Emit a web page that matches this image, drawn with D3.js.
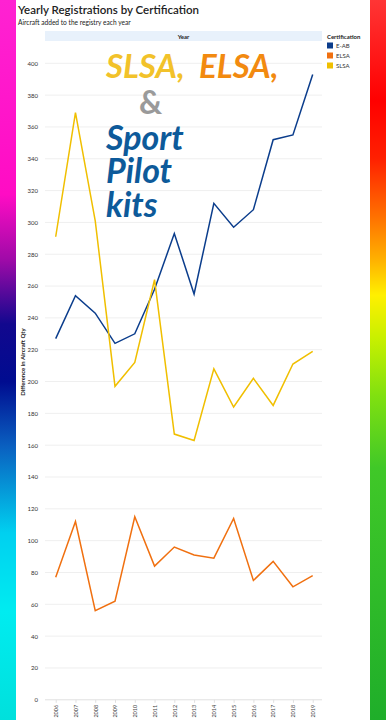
<!DOCTYPE html>
<html><head><meta charset="utf-8">
<script src="https://cdn.jsdelivr.net/npm/d3@7"></script>
<style>html,body{margin:0;padding:0;background:#fff;}svg{display:block;}</style>
</head><body><svg id="c" width="386" height="720"></svg>
<script>
const years = [2006,2007,2008,2009,2010,2011,2012,2013,2014,2015,2016,2017,2018,2019];
const eab  = [227,254,243,224,230,258,293,255,312,297,308,352,355,393];
const elsa = [77,112,56,62,115,84,96,91,89,114,75,87,71,78];
const slsa = [291,369,301,197,212,264,167,163,208,184,202,185,211,219];
const seriesNames = ["E-AB","ELSA","SLSA"];
const seriesColors = ["#0b3d8c","#f07010","#f0bf00"];
const yTicks = [0,20,40,60,80,100,120,140,160,180,200,220,240,260,280,300,320,340,360,380,400];

const svg = d3.select("#c");
const font = "Lato, 'Noto Sans', sans-serif";

// side gradients
const defs = svg.append("defs");
const gl = defs.append("linearGradient").attr("id","gl").attr("x1",0).attr("y1",0).attr("x2",0).attr("y2",1);
[[0,"#ff22d2"],[0.27,"#ff0cc4"],[0.36,"#a00aa8"],[0.45,"#12088e"],[0.53,"#000c90"],[0.62,"#0a60c0"],[0.74,"#00d0f0"],[0.85,"#00ecf0"],[1,"#00e0dc"]]
 .forEach(s=>gl.append("stop").attr("offset",s[0]).attr("stop-color",s[1]));
const gr = defs.append("linearGradient").attr("id","gr").attr("x1",0).attr("y1",0).attr("x2",0).attr("y2",1);
[[0,"#ff3535"],[0.14,"#ff0000"],[0.22,"#ff2000"],[0.3,"#ff7000"],[0.36,"#ffb000"],[0.41,"#fff000"],[0.47,"#c8f000"],[0.55,"#80e010"],[0.65,"#40c828"],[1,"#1fae2a"]]
 .forEach(s=>gr.append("stop").attr("offset",s[0]).attr("stop-color",s[1]));
svg.append("rect").attr("x",0).attr("y",0).attr("width",16).attr("height",720).attr("fill","url(#gl)");
svg.append("rect").attr("x",370).attr("y",0).attr("width",16).attr("height",720).attr("fill","url(#gr)");

// titles
svg.append("text").attr("x",18).attr("y",14).attr("font-family",font).attr("font-size",11.5).attr("font-weight",600)
  .attr("fill","#222").text("Yearly Registrations by Certification");
svg.append("text").attr("x",18).attr("y",25).attr("font-family",font).attr("font-size",6.6)
  .attr("fill","#222").text("Aircraft added to the registry each year");

const x0 = 45, x1 = 322;
const x = d3.scalePoint().domain(years).range([55.7,312.7]);
const y = d3.scaleLinear().domain([0,400]).range([699.8,63.3]);

// header band
svg.append("rect").attr("x",x0).attr("y",31).attr("width",x1-x0).attr("height",10).attr("fill","#e8f1fb");
svg.append("text").attr("x",(x0+x1)/2).attr("y",38.5).attr("text-anchor","middle").attr("font-family",font)
  .attr("font-size",6).attr("font-weight",700).attr("fill","#222").text("Year");

// gridlines
svg.append("g").selectAll("line").data(yTicks.filter(d=>d>0)).join("line")
  .attr("x1",x0).attr("x2",x1).attr("y1",d=>y(d)).attr("y2",d=>y(d))
  .attr("stroke","#efefef").attr("stroke-width",1);

// y axis
const ya = svg.append("g").attr("transform",`translate(${x0},0)`)
  .call(d3.axisLeft(y).tickValues(yTicks).tickSize(0).tickPadding(7));
ya.select(".domain").remove();
ya.selectAll("text").attr("font-family",font).attr("font-size",6).attr("fill","#333");

// x axis
const xa = svg.append("g").attr("transform",`translate(0,${y(0)})`)
  .call(d3.axisBottom(x).tickSize(3).tickPadding(2));
xa.select(".domain").attr("d",`M${x0},0H${x1}`).attr("stroke","#e0e0e0");
xa.selectAll(".tick line").attr("stroke","#e0e0e0");
xa.selectAll("text").attr("font-family",font).attr("font-size",5.5).attr("fill","#444")
  .attr("transform","rotate(-90)").attr("text-anchor","end")
  .attr("x",0).attr("y",0).attr("dx",-5).attr("dy","0.32em");

// y title
svg.append("text").attr("transform","translate(25,362) rotate(-90)").attr("text-anchor","middle")
  .attr("font-family",font).attr("font-size",6).attr("font-weight",700).attr("fill","#222")
  .text("Difference in Aircraft Qty");

// annotation text
const ann = svg.append("g").attr("font-family","Lato, 'Open Sans', sans-serif").attr("font-style","italic").attr("font-weight",700);
ann.append("text").attr("x",106).attr("y",78).attr("font-size",33).attr("fill","#f2c22a").text("SLSA,");
ann.append("text").attr("x",199).attr("y",78).attr("font-size",33).attr("fill","#f28a10").text("ELSA,");
ann.append("text").attr("x",139).attr("y",114).attr("font-size",32).attr("font-style","normal").attr("fill","#9a9a9a").text("&");
ann.append("text").attr("x",106).attr("y",150).attr("font-size",34).attr("fill","#0d5a9a").text("Sport");
ann.append("text").attr("x",106).attr("y",183).attr("font-size",34).attr("fill","#0d5a9a").text("Pilot");
ann.append("text").attr("x",106).attr("y",217).attr("font-size",34).attr("fill","#0d5a9a").text("kits");

// lines
const line = d3.line().x((d,i)=>x(years[i])).y(d=>y(d));
[eab,elsa,slsa].forEach((s,k)=>{
  svg.append("path").datum(s).attr("d",line).attr("fill","none")
    .attr("stroke",seriesColors[k]).attr("stroke-width",1.5).attr("stroke-linejoin","miter");
});

// legend
const lg = svg.append("g").attr("font-family",font);
lg.append("text").attr("x",327).attr("y",39).attr("font-size",6).attr("font-weight",700).attr("fill","#222").text("Certification");
seriesNames.forEach((n,i)=>{
  lg.append("rect").attr("x",327).attr("y",42.5+i*10).attr("width",6).attr("height",6).attr("fill",seriesColors[i]);
  lg.append("text").attr("x",336).attr("y",48+i*10).attr("font-size",6).attr("fill","#333").text(n);
});
</script></body></html>
